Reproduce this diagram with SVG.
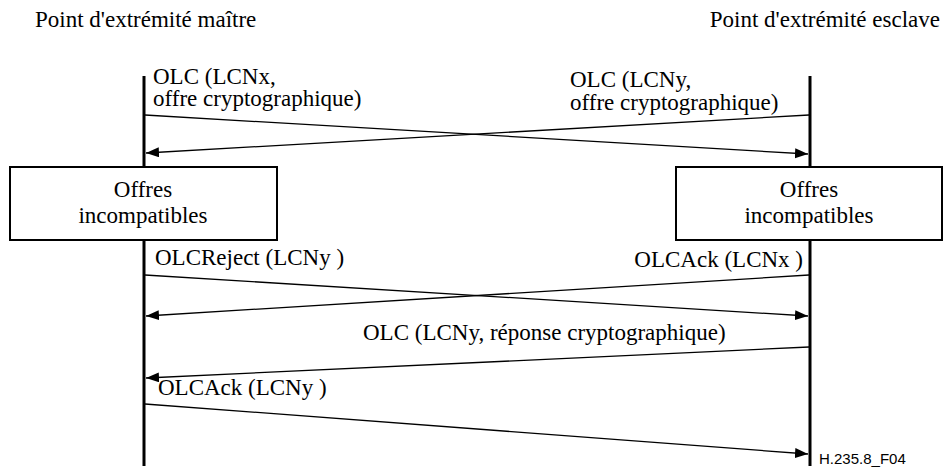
<svg xmlns="http://www.w3.org/2000/svg" width="943" height="468" viewBox="0 0 943 468">
  <style>
    text { fill: #000; }
    .lbl { font-family: 'Liberation Serif', 'Times New Roman', Times, serif; font-size: 23px; }
    .ref { font-family: 'Liberation Sans', Arial, sans-serif; font-size: 15px; }
    .life { stroke: #000; stroke-width: 3; fill: none; }
    .box { stroke: #000; stroke-width: 2; fill: #fff; }
    .msg { stroke: #000; stroke-width: 1.3; fill: none; marker-end: url(#head); }
  </style>
  <defs>
    <marker id="head" markerUnits="userSpaceOnUse" markerWidth="14" markerHeight="12" refX="13" refY="5" orient="auto">
      <path d="M0,0 L13,5 L0,10 Z" fill="#000"/>
    </marker>
  </defs>
  <rect width="943" height="468" fill="#fff"/>

  <!-- lifelines -->
  <g id="master">
    <text class="lbl" x="35" y="27">Point d'extrémité maître</text>
    <line class="life" x1="144" y1="76" x2="144" y2="466"/>
  </g>
  <g id="slave">
    <text class="lbl" x="940" y="27" text-anchor="end">Point d'extrémité esclave</text>
    <line class="life" x1="810" y1="76" x2="810" y2="466"/>
  </g>

  <!-- state boxes -->
  <g id="box-master">
    <rect class="box" x="10" y="167" width="267" height="73"/>
    <text class="lbl" x="143" y="197" text-anchor="middle">Offres</text>
    <text class="lbl" x="143" y="223" text-anchor="middle">incompatibles</text>
  </g>
  <g id="box-slave">
    <rect class="box" x="676" y="167" width="266" height="73"/>
    <text class="lbl" x="809" y="197" text-anchor="middle">Offres</text>
    <text class="lbl" x="809" y="223" text-anchor="middle">incompatibles</text>
  </g>

  <!-- messages -->
  <g id="connectors">
    <line class="msg" x1="145" y1="115" x2="808" y2="154"/>
    <line class="msg" x1="809" y1="115" x2="146" y2="153"/>
    <line class="msg" x1="145" y1="275" x2="808" y2="316"/>
    <line class="msg" x1="809" y1="275" x2="146" y2="316"/>
    <line class="msg" x1="809" y1="347" x2="146" y2="378"/>
    <line class="msg" x1="145" y1="404" x2="808" y2="454"/>
  </g>

  <g id="labels">
    <text class="lbl" x="153" y="84">OLC (LCNx,</text>
    <text class="lbl" x="153" y="106">offre cryptographique)</text>
    <text class="lbl" x="570" y="87">OLC (LCNy,</text>
    <text class="lbl" x="570" y="110">offre cryptographique)</text>
    <text class="lbl" x="155" y="265">OLCReject (LCNy )</text>
    <text class="lbl" x="803" y="267" text-anchor="end">OLCAck (LCNx )</text>
    <text class="lbl" x="363" y="340">OLC (LCNy, réponse cryptographique)</text>
    <text class="lbl" x="158" y="395">OLCAck (LCNy )</text>
    <text class="ref" x="819" y="464">H.235.8_F04</text>
  </g>
</svg>
